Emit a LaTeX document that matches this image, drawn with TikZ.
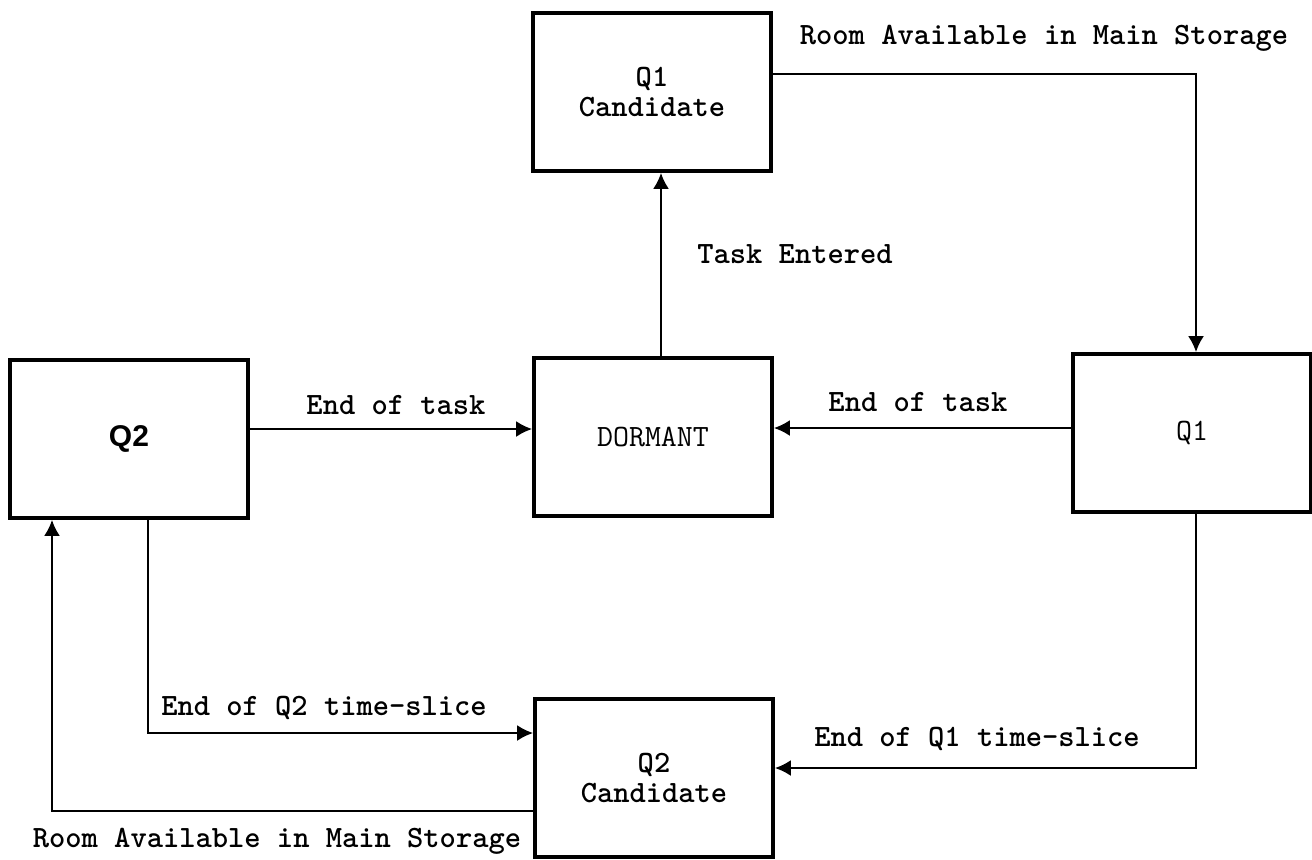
\documentclass[tikz,border=0pt]{standalone}
\usepackage{fontspec}
\setsansfont{Liberation Sans}
\usetikzlibrary{arrows.meta,positioning}

\begin{document}
\begin{tikzpicture}[x=0.5pt, y=-0.5pt,
  state/.style={draw, line width=1.8pt, minimum width=119pt, minimum height=79pt, inner sep=0pt, align=center,
    font=\fontsize{15.5}{15}\selectfont\ttfamily\bfseries},
  trans/.style={line width=1.3pt, -{Latex[length=8pt,width=8pt]}},
  lbl/.style={font=\fontsize{15.5}{15}\selectfont\ttfamily\bfseries, inner sep=0pt}]
\useasboundingbox (0,0) rectangle (1312,859);

% the five states
\node[state] (q1c) at (652,92) {Q1\\Candidate};
\node[state, font=\fontsize{15.5}{15}\selectfont\ttfamily] (dormant) at (653,437) {DORMANT};
\node[state, font=\fontsize{15}{17}\selectfont\sffamily\bfseries] (q2) at (129,439) {Q2};
\node[state, font=\fontsize{15.5}{15}\selectfont\ttfamily] (q1) at (1192,433) {Q1};
\node[state] (q2c) at (654,778) {Q2\\Candidate};

% bend points
\coordinate (a1) at (1196,74);
\coordinate (te) at (661,254);
\coordinate (e2) at (396,429);
\coordinate (e1) at (918,428);
\coordinate (s2) at (148,733);
\coordinate (s1) at (1196,768);
\coordinate (r2) at (52,811);

% transitions
\draw[trans] (q1c.east |- a1) -- (a1) -- (q1.north -| a1);
\draw[trans] (dormant.north -| te) -- (q1c.south -| te);
\draw[trans] (q2.east |- e2) -- (dormant.west |- e2);
\draw[trans] (q1.west |- e1) -- (dormant.east |- e1);
\draw[trans] (q2.south -| s2) -- (s2) -- (q2c.west |- s2);
\draw[trans] (q1.south -| s1) -- (s1) -- (q2c.east |- s1);
\draw[trans] (q2c.west |- r2) -- (r2) -- (q2.south -| r2);

% labels
\node[lbl] (room1) at (1044,38) {Room Available in Main Storage};
\node[lbl] (entered) at (795,254) {Task Entered};
\node[lbl] (end2) at (396,405) {End of task};
\node[lbl] (end1) at (918,402) {End of task};
\node[lbl] (slice2) at (324,708) {End of Q2 time-slice};
\node[lbl] (slice1) at (977,739) {End of Q1 time-slice};
\node[lbl] (room2) at (277,841) {Room Available in Main Storage};
\end{tikzpicture}
\end{document}
